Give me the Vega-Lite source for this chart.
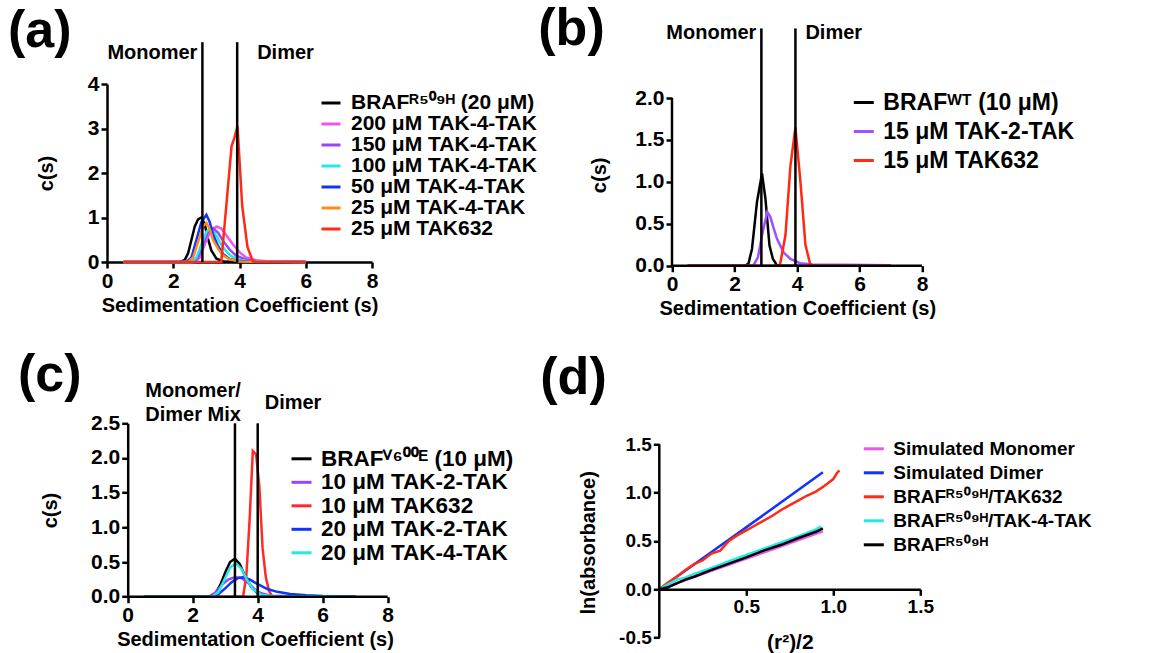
{
  "$schema": "https://vega.github.io/schema/vega-lite/v6.json",
  "padding": {"left": 8, "top": 2, "right": 0, "bottom": 0},
  "background": "white",
  "columns": 2,
  "bounds": "flush",
  "align": "each",
  "spacing": {"row": 157.3, "column": 271.3},
  "resolve": {"scale": {"x": "independent", "y": "independent", "color": "independent"}, "axis": {"x": "independent", "y": "independent"}, "legend": {"color": "independent"}},
  "datasets": {
    "A": [
      {"k":"BRAFᴿ⁵⁰⁹ᴴ (20 μM)","s":0.5,"c":0},{"k":"BRAFᴿ⁵⁰⁹ᴴ (20 μM)","s":2.2,"c":0},{"k":"BRAFᴿ⁵⁰⁹ᴴ (20 μM)","s":2.35,"c":0.05},{"k":"BRAFᴿ⁵⁰⁹ᴴ (20 μM)","s":2.45,"c":0.2},{"k":"BRAFᴿ⁵⁰⁹ᴴ (20 μM)","s":2.55,"c":0.5},{"k":"BRAFᴿ⁵⁰⁹ᴴ (20 μM)","s":2.65,"c":0.8},{"k":"BRAFᴿ⁵⁰⁹ᴴ (20 μM)","s":2.75,"c":0.96},{"k":"BRAFᴿ⁵⁰⁹ᴴ (20 μM)","s":2.85,"c":1.0},{"k":"BRAFᴿ⁵⁰⁹ᴴ (20 μM)","s":2.95,"c":0.85},{"k":"BRAFᴿ⁵⁰⁹ᴴ (20 μM)","s":3.05,"c":0.52},{"k":"BRAFᴿ⁵⁰⁹ᴴ (20 μM)","s":3.15,"c":0.26},{"k":"BRAFᴿ⁵⁰⁹ᴴ (20 μM)","s":3.3,"c":0.08},{"k":"BRAFᴿ⁵⁰⁹ᴴ (20 μM)","s":3.5,"c":0.01},{"k":"BRAFᴿ⁵⁰⁹ᴴ (20 μM)","s":4,"c":0},{"k":"BRAFᴿ⁵⁰⁹ᴴ (20 μM)","s":6,"c":0},
      {"k":"200 μM TAK-4-TAK","s":0.5,"c":0},{"k":"200 μM TAK-4-TAK","s":2.65,"c":0},{"k":"200 μM TAK-4-TAK","s":2.8,"c":0.1},{"k":"200 μM TAK-4-TAK","s":2.95,"c":0.4},{"k":"200 μM TAK-4-TAK","s":3.1,"c":0.65},{"k":"200 μM TAK-4-TAK","s":3.3,"c":0.8},{"k":"200 μM TAK-4-TAK","s":3.45,"c":0.75},{"k":"200 μM TAK-4-TAK","s":3.6,"c":0.6},{"k":"200 μM TAK-4-TAK","s":3.8,"c":0.4},{"k":"200 μM TAK-4-TAK","s":4.0,"c":0.22},{"k":"200 μM TAK-4-TAK","s":4.2,"c":0.1},{"k":"200 μM TAK-4-TAK","s":4.5,"c":0.04},{"k":"200 μM TAK-4-TAK","s":4.9,"c":0.01},{"k":"200 μM TAK-4-TAK","s":6,"c":0},
      {"k":"150 μM TAK-4-TAK","s":0.5,"c":0},{"k":"150 μM TAK-4-TAK","s":2.6,"c":0},{"k":"150 μM TAK-4-TAK","s":2.75,"c":0.1},{"k":"150 μM TAK-4-TAK","s":2.9,"c":0.4},{"k":"150 μM TAK-4-TAK","s":3.05,"c":0.68},{"k":"150 μM TAK-4-TAK","s":3.2,"c":0.76},{"k":"150 μM TAK-4-TAK","s":3.35,"c":0.66},{"k":"150 μM TAK-4-TAK","s":3.5,"c":0.48},{"k":"150 μM TAK-4-TAK","s":3.7,"c":0.28},{"k":"150 μM TAK-4-TAK","s":3.9,"c":0.14},{"k":"150 μM TAK-4-TAK","s":4.2,"c":0.05},{"k":"150 μM TAK-4-TAK","s":4.6,"c":0.01},{"k":"150 μM TAK-4-TAK","s":6,"c":0},
      {"k":"100 μM TAK-4-TAK","s":0.5,"c":0},{"k":"100 μM TAK-4-TAK","s":2.55,"c":0},{"k":"100 μM TAK-4-TAK","s":2.7,"c":0.1},{"k":"100 μM TAK-4-TAK","s":2.85,"c":0.4},{"k":"100 μM TAK-4-TAK","s":3.0,"c":0.68},{"k":"100 μM TAK-4-TAK","s":3.1,"c":0.75},{"k":"100 μM TAK-4-TAK","s":3.25,"c":0.65},{"k":"100 μM TAK-4-TAK","s":3.4,"c":0.45},{"k":"100 μM TAK-4-TAK","s":3.55,"c":0.28},{"k":"100 μM TAK-4-TAK","s":3.75,"c":0.13},{"k":"100 μM TAK-4-TAK","s":4.0,"c":0.05},{"k":"100 μM TAK-4-TAK","s":4.3,"c":0.01},{"k":"100 μM TAK-4-TAK","s":6,"c":0},
      {"k":"50 μM TAK-4-TAK","s":0.5,"c":0},{"k":"50 μM TAK-4-TAK","s":2.4,"c":0},{"k":"50 μM TAK-4-TAK","s":2.55,"c":0.1},{"k":"50 μM TAK-4-TAK","s":2.7,"c":0.5},{"k":"50 μM TAK-4-TAK","s":2.85,"c":0.9},{"k":"50 μM TAK-4-TAK","s":3.0,"c":1.06},{"k":"50 μM TAK-4-TAK","s":3.1,"c":0.9},{"k":"50 μM TAK-4-TAK","s":3.2,"c":0.62},{"k":"50 μM TAK-4-TAK","s":3.35,"c":0.36},{"k":"50 μM TAK-4-TAK","s":3.5,"c":0.18},{"k":"50 μM TAK-4-TAK","s":3.7,"c":0.07},{"k":"50 μM TAK-4-TAK","s":4.0,"c":0.02},{"k":"50 μM TAK-4-TAK","s":4.5,"c":0},{"k":"50 μM TAK-4-TAK","s":6,"c":0},
      {"k":"25 μM TAK-4-TAK","s":0.5,"c":0},{"k":"25 μM TAK-4-TAK","s":2.45,"c":0},{"k":"25 μM TAK-4-TAK","s":2.6,"c":0.1},{"k":"25 μM TAK-4-TAK","s":2.75,"c":0.45},{"k":"25 μM TAK-4-TAK","s":2.9,"c":0.8},{"k":"25 μM TAK-4-TAK","s":3.0,"c":0.88},{"k":"25 μM TAK-4-TAK","s":3.1,"c":0.75},{"k":"25 μM TAK-4-TAK","s":3.2,"c":0.5},{"k":"25 μM TAK-4-TAK","s":3.35,"c":0.3},{"k":"25 μM TAK-4-TAK","s":3.5,"c":0.15},{"k":"25 μM TAK-4-TAK","s":3.7,"c":0.06},{"k":"25 μM TAK-4-TAK","s":4.0,"c":0.01},{"k":"25 μM TAK-4-TAK","s":6,"c":0},
      {"k":"25 μM TAK632","s":0.5,"c":0},{"k":"25 μM TAK632","s":3.45,"c":0},{"k":"25 μM TAK632","s":3.6,"c":1.25},{"k":"25 μM TAK632","s":3.76,"c":2.6},{"k":"25 μM TAK632","s":3.85,"c":2.8},{"k":"25 μM TAK632","s":3.94,"c":3.06},{"k":"25 μM TAK632","s":4.08,"c":1.27},{"k":"25 μM TAK632","s":4.24,"c":0.34},{"k":"25 μM TAK632","s":4.4,"c":0.02},{"k":"25 μM TAK632","s":4.5,"c":0},{"k":"25 μM TAK632","s":6,"c":0}
    ],
    "AR": [
      {"s":2.88,"c":0,"s2":2.88,"c2":4.94},
      {"s":3.93,"c":0,"s2":3.93,"c2":4.94}
    ],
    "AT": [
      {"s":2.88,"c":4.7,"t":"Monomer"},
      {"s":3.93,"c":4.7,"t":"Dimer"}
    ],
    "B": [
      {"k":"BRAFᵂᵀ (10 μM)","s":0.5,"c":0},{"k":"BRAFᵂᵀ (10 μM)","s":2.35,"c":0},{"k":"BRAFᵂᵀ (10 μM)","s":2.45,"c":0.03},{"k":"BRAFᵂᵀ (10 μM)","s":2.56,"c":0.2},{"k":"BRAFᵂᵀ (10 μM)","s":2.72,"c":0.76},{"k":"BRAFᵂᵀ (10 μM)","s":2.88,"c":1.1},{"k":"BRAFᵂᵀ (10 μM)","s":2.99,"c":0.8},{"k":"BRAFᵂᵀ (10 μM)","s":3.12,"c":0.24},{"k":"BRAFᵂᵀ (10 μM)","s":3.23,"c":0.08},{"k":"BRAFᵂᵀ (10 μM)","s":3.35,"c":0.01},{"k":"BRAFᵂᵀ (10 μM)","s":3.5,"c":0},{"k":"BRAFᵂᵀ (10 μM)","s":7,"c":0},
      {"k":"15 μM TAK-2-TAK","s":0.5,"c":0},{"k":"15 μM TAK-2-TAK","s":2.6,"c":0},{"k":"15 μM TAK-2-TAK","s":2.75,"c":0.1},{"k":"15 μM TAK-2-TAK","s":2.9,"c":0.4},{"k":"15 μM TAK-2-TAK","s":3.05,"c":0.64},{"k":"15 μM TAK-2-TAK","s":3.15,"c":0.58},{"k":"15 μM TAK-2-TAK","s":3.25,"c":0.45},{"k":"15 μM TAK-2-TAK","s":3.36,"c":0.32},{"k":"15 μM TAK-2-TAK","s":3.57,"c":0.16},{"k":"15 μM TAK-2-TAK","s":3.79,"c":0.08},{"k":"15 μM TAK-2-TAK","s":4.1,"c":0.03},{"k":"15 μM TAK-2-TAK","s":4.5,"c":0.015},{"k":"15 μM TAK-2-TAK","s":5.5,"c":0.01},{"k":"15 μM TAK-2-TAK","s":7,"c":0.005},
      {"k":"15 μM TAK632","s":0.5,"c":0},{"k":"15 μM TAK632","s":3.45,"c":0},{"k":"15 μM TAK632","s":3.63,"c":0.36},{"k":"15 μM TAK632","s":3.79,"c":1.19},{"k":"15 μM TAK632","s":3.95,"c":1.65},{"k":"15 μM TAK632","s":4.11,"c":1.0},{"k":"15 μM TAK632","s":4.27,"c":0.25},{"k":"15 μM TAK632","s":4.42,"c":0.02},{"k":"15 μM TAK632","s":4.5,"c":0},{"k":"15 μM TAK632","s":7,"c":0}
    ],
    "BR": [
      {"s":0,"c":0,"s2":0,"c2":2},
      {"s":0,"c":0,"s2":8,"c2":0},
      {"s":2.86,"c":0,"s2":2.86,"c2":2.83},
      {"s":3.95,"c":0,"s2":3.95,"c2":2.83}
    ],
    "BT": [
      {"s":2.86,"c":2.78,"t":"Monomer"},
      {"s":3.95,"c":2.78,"t":"Dimer"}
    ],
    "C": [
      {"k":"BRAFⱽ⁶⁰⁰ᴱ (10 μM)","s":0.5,"c":0},{"k":"BRAFⱽ⁶⁰⁰ᴱ (10 μM)","s":2.5,"c":0},{"k":"BRAFⱽ⁶⁰⁰ᴱ (10 μM)","s":2.7,"c":0.05},{"k":"BRAFⱽ⁶⁰⁰ᴱ (10 μM)","s":2.85,"c":0.17},{"k":"BRAFⱽ⁶⁰⁰ᴱ (10 μM)","s":3.0,"c":0.35},{"k":"BRAFⱽ⁶⁰⁰ᴱ (10 μM)","s":3.15,"c":0.5},{"k":"BRAFⱽ⁶⁰⁰ᴱ (10 μM)","s":3.3,"c":0.55},{"k":"BRAFⱽ⁶⁰⁰ᴱ (10 μM)","s":3.45,"c":0.47},{"k":"BRAFⱽ⁶⁰⁰ᴱ (10 μM)","s":3.6,"c":0.31},{"k":"BRAFⱽ⁶⁰⁰ᴱ (10 μM)","s":3.8,"c":0.14},{"k":"BRAFⱽ⁶⁰⁰ᴱ (10 μM)","s":4.0,"c":0.05},{"k":"BRAFⱽ⁶⁰⁰ᴱ (10 μM)","s":4.3,"c":0.01},{"k":"BRAFⱽ⁶⁰⁰ᴱ (10 μM)","s":7,"c":0},
      {"k":"10 μM TAK-2-TAK","s":0.5,"c":0},{"k":"10 μM TAK-2-TAK","s":2.5,"c":0},{"k":"10 μM TAK-2-TAK","s":2.7,"c":0.06},{"k":"10 μM TAK-2-TAK","s":2.9,"c":0.17},{"k":"10 μM TAK-2-TAK","s":3.1,"c":0.25},{"k":"10 μM TAK-2-TAK","s":3.3,"c":0.28},{"k":"10 μM TAK-2-TAK","s":3.5,"c":0.27},{"k":"10 μM TAK-2-TAK","s":3.7,"c":0.2},{"k":"10 μM TAK-2-TAK","s":3.9,"c":0.11},{"k":"10 μM TAK-2-TAK","s":4.1,"c":0.05},{"k":"10 μM TAK-2-TAK","s":4.4,"c":0.015},{"k":"10 μM TAK-2-TAK","s":7,"c":0},
      {"k":"10 μM TAK632","s":0.5,"c":0},{"k":"10 μM TAK632","s":3.55,"c":0},{"k":"10 μM TAK632","s":3.65,"c":0.3},{"k":"10 μM TAK632","s":3.75,"c":1.1},{"k":"10 μM TAK632","s":3.85,"c":2.1},{"k":"10 μM TAK632","s":3.95,"c":2.05},{"k":"10 μM TAK632","s":4.05,"c":1.6},{"k":"10 μM TAK632","s":4.15,"c":0.7},{"k":"10 μM TAK632","s":4.25,"c":0.28},{"k":"10 μM TAK632","s":4.35,"c":0.08},{"k":"10 μM TAK632","s":4.45,"c":0},{"k":"10 μM TAK632","s":7,"c":0},
      {"k":"20 μM TAK-2-TAK","s":0.5,"c":0},{"k":"20 μM TAK-2-TAK","s":2.6,"c":0},{"k":"20 μM TAK-2-TAK","s":2.8,"c":0.04},{"k":"20 μM TAK-2-TAK","s":3.0,"c":0.12},{"k":"20 μM TAK-2-TAK","s":3.2,"c":0.21},{"k":"20 μM TAK-2-TAK","s":3.4,"c":0.27},{"k":"20 μM TAK-2-TAK","s":3.55,"c":0.28},{"k":"20 μM TAK-2-TAK","s":3.75,"c":0.25},{"k":"20 μM TAK-2-TAK","s":4.0,"c":0.18},{"k":"20 μM TAK-2-TAK","s":4.3,"c":0.11},{"k":"20 μM TAK-2-TAK","s":4.6,"c":0.07},{"k":"20 μM TAK-2-TAK","s":5.0,"c":0.04},{"k":"20 μM TAK-2-TAK","s":5.5,"c":0.02},{"k":"20 μM TAK-2-TAK","s":6,"c":0.01},{"k":"20 μM TAK-2-TAK","s":7,"c":0.003},
      {"k":"20 μM TAK-4-TAK","s":0.5,"c":0},{"k":"20 μM TAK-4-TAK","s":2.6,"c":0},{"k":"20 μM TAK-4-TAK","s":2.8,"c":0.07},{"k":"20 μM TAK-4-TAK","s":3.0,"c":0.27},{"k":"20 μM TAK-4-TAK","s":3.15,"c":0.42},{"k":"20 μM TAK-4-TAK","s":3.33,"c":0.48},{"k":"20 μM TAK-4-TAK","s":3.5,"c":0.4},{"k":"20 μM TAK-4-TAK","s":3.65,"c":0.26},{"k":"20 μM TAK-4-TAK","s":3.85,"c":0.11},{"k":"20 μM TAK-4-TAK","s":4.1,"c":0.03},{"k":"20 μM TAK-4-TAK","s":4.5,"c":0.005},{"k":"20 μM TAK-4-TAK","s":7,"c":0}
    ],
    "CR": [
      {"s":0,"c":0,"s2":8,"c2":0},
      {"s":3.3,"c":0,"s2":3.3,"c2":2.5},
      {"s":4.0,"c":0,"s2":4.0,"c2":2.5}
    ],
    "CT": [
      {"s":2.01,"c":2.965,"t":"Monomer/\nDimer Mix"},
      {"s":4.0,"c":2.79,"t":"Dimer"}
    ],
    "D": [
      {"k":"Simulated Monomer","r":0,"a":0},{"k":"Simulated Monomer","r":0.3,"a":0.19},{"k":"Simulated Monomer","r":0.6,"a":0.38},{"k":"Simulated Monomer","r":0.94,"a":0.6},
      {"k":"Simulated Dimer","r":0,"a":0},{"k":"Simulated Dimer","r":0.3,"a":0.385},{"k":"Simulated Dimer","r":0.6,"a":0.77},{"k":"Simulated Dimer","r":0.94,"a":1.21},
      {"k":"BRAFᴿ⁵⁰⁹ᴴ/TAK632","r":0,"a":0},{"k":"BRAFᴿ⁵⁰⁹ᴴ/TAK632","r":0.05,"a":0.07},{"k":"BRAFᴿ⁵⁰⁹ᴴ/TAK632","r":0.1,"a":0.13},{"k":"BRAFᴿ⁵⁰⁹ᴴ/TAK632","r":0.15,"a":0.2},{"k":"BRAFᴿ⁵⁰⁹ᴴ/TAK632","r":0.2,"a":0.26},{"k":"BRAFᴿ⁵⁰⁹ᴴ/TAK632","r":0.25,"a":0.3},{"k":"BRAFᴿ⁵⁰⁹ᴴ/TAK632","r":0.3,"a":0.37},{"k":"BRAFᴿ⁵⁰⁹ᴴ/TAK632","r":0.35,"a":0.4},{"k":"BRAFᴿ⁵⁰⁹ᴴ/TAK632","r":0.4,"a":0.5},{"k":"BRAFᴿ⁵⁰⁹ᴴ/TAK632","r":0.45,"a":0.56},{"k":"BRAFᴿ⁵⁰⁹ᴴ/TAK632","r":0.5,"a":0.61},{"k":"BRAFᴿ⁵⁰⁹ᴴ/TAK632","r":0.55,"a":0.66},{"k":"BRAFᴿ⁵⁰⁹ᴴ/TAK632","r":0.6,"a":0.71},{"k":"BRAFᴿ⁵⁰⁹ᴴ/TAK632","r":0.65,"a":0.76},{"k":"BRAFᴿ⁵⁰⁹ᴴ/TAK632","r":0.7,"a":0.82},{"k":"BRAFᴿ⁵⁰⁹ᴴ/TAK632","r":0.75,"a":0.87},{"k":"BRAFᴿ⁵⁰⁹ᴴ/TAK632","r":0.8,"a":0.92},{"k":"BRAFᴿ⁵⁰⁹ᴴ/TAK632","r":0.85,"a":0.97},{"k":"BRAFᴿ⁵⁰⁹ᴴ/TAK632","r":0.9,"a":1.01},{"k":"BRAFᴿ⁵⁰⁹ᴴ/TAK632","r":0.95,"a":1.07},{"k":"BRAFᴿ⁵⁰⁹ᴴ/TAK632","r":1.0,"a":1.14},{"k":"BRAFᴿ⁵⁰⁹ᴴ/TAK632","r":1.02,"a":1.2},{"k":"BRAFᴿ⁵⁰⁹ᴴ/TAK632","r":1.035,"a":1.23},
      {"k":"BRAFᴿ⁵⁰⁹ᴴ/TAK-4-TAK","r":0,"a":0},{"k":"BRAFᴿ⁵⁰⁹ᴴ/TAK-4-TAK","r":0.05,"a":0.05},{"k":"BRAFᴿ⁵⁰⁹ᴴ/TAK-4-TAK","r":0.1,"a":0.1},{"k":"BRAFᴿ⁵⁰⁹ᴴ/TAK-4-TAK","r":0.15,"a":0.12},{"k":"BRAFᴿ⁵⁰⁹ᴴ/TAK-4-TAK","r":0.2,"a":0.16},{"k":"BRAFᴿ⁵⁰⁹ᴴ/TAK-4-TAK","r":0.3,"a":0.22},{"k":"BRAFᴿ⁵⁰⁹ᴴ/TAK-4-TAK","r":0.4,"a":0.29},{"k":"BRAFᴿ⁵⁰⁹ᴴ/TAK-4-TAK","r":0.5,"a":0.355},{"k":"BRAFᴿ⁵⁰⁹ᴴ/TAK-4-TAK","r":0.6,"a":0.42},{"k":"BRAFᴿ⁵⁰⁹ᴴ/TAK-4-TAK","r":0.7,"a":0.485},{"k":"BRAFᴿ⁵⁰⁹ᴴ/TAK-4-TAK","r":0.8,"a":0.55},{"k":"BRAFᴿ⁵⁰⁹ᴴ/TAK-4-TAK","r":0.9,"a":0.62},{"k":"BRAFᴿ⁵⁰⁹ᴴ/TAK-4-TAK","r":0.93,"a":0.65},
      {"k":"BRAFᴿ⁵⁰⁹ᴴ","r":0,"a":0},{"k":"BRAFᴿ⁵⁰⁹ᴴ","r":0.05,"a":0.02},{"k":"BRAFᴿ⁵⁰⁹ᴴ","r":0.1,"a":0.06},{"k":"BRAFᴿ⁵⁰⁹ᴴ","r":0.15,"a":0.1},{"k":"BRAFᴿ⁵⁰⁹ᴴ","r":0.2,"a":0.13},{"k":"BRAFᴿ⁵⁰⁹ᴴ","r":0.3,"a":0.2},{"k":"BRAFᴿ⁵⁰⁹ᴴ","r":0.4,"a":0.265},{"k":"BRAFᴿ⁵⁰⁹ᴴ","r":0.5,"a":0.33},{"k":"BRAFᴿ⁵⁰⁹ᴴ","r":0.6,"a":0.4},{"k":"BRAFᴿ⁵⁰⁹ᴴ","r":0.7,"a":0.46},{"k":"BRAFᴿ⁵⁰⁹ᴴ","r":0.8,"a":0.53},{"k":"BRAFᴿ⁵⁰⁹ᴴ","r":0.9,"a":0.595},{"k":"BRAFᴿ⁵⁰⁹ᴴ","r":0.94,"a":0.63}
    ],
    "DR": [
      {"r":0,"a":-0.5,"r2":0,"a2":1.5}
    ]
  },
  "concat": [
    {
      "width": 265, "height": 178,
      "title": {"text": "(a)", "dx": -99, "offset": -17},
      "layer": [
        {
          "data": {"name": "A"},
          "mark": {"type": "line", "strokeWidth": 2.5},
          "encoding": {
            "x": {"field": "s", "type": "quantitative", "scale": {"domain": [0, 8], "nice": false}, "axis": {"title": "Sedimentation Coefficient (s)", "values": [0, 2, 4, 6, 8], "titlePadding": 4, "labelOverlap": false}},
            "y": {"field": "c", "type": "quantitative", "scale": {"domain": [0, 4], "nice": false}, "axis": {"title": "c(s)", "values": [0, 1, 2, 3, 4], "titlePadding": 31, "labelOverlap": false}},
            "color": {"field": "k", "type": "nominal",
              "scale": {"domain": ["BRAFᴿ⁵⁰⁹ᴴ (20 μM)", "200 μM TAK-4-TAK", "150 μM TAK-4-TAK", "100 μM TAK-4-TAK", "50 μM TAK-4-TAK", "25 μM TAK-4-TAK", "25 μM TAK632"],
                        "range": ["#000000", "#ee55ee", "#9944ff", "#22e8e8", "#1133ff", "#ff8a1c", "#ff2a12"]},
              "legend": {"title": null, "orient": "none", "legendX": 213, "legendY": 8, "labelFontSize": 21, "symbolSize": 361, "rowPadding": 0, "labelOffset": 9}}
          }
        },
        {
          "data": {"name": "AR"},
          "mark": {"type": "rule", "strokeWidth": 2.5, "color": "#000000"},
          "encoding": {"x": {"field": "s", "type": "quantitative"}, "y": {"field": "c", "type": "quantitative"}, "x2": {"field": "s2"}, "y2": {"field": "c2"}}
        },
        {
          "data": {"name": "AT"},
          "transform": [{"filter": "datum.t == 'Monomer'"}],
          "mark": {"type": "text", "align": "right", "baseline": "middle", "dx": -5},
          "encoding": {"x": {"field": "s", "type": "quantitative"}, "y": {"field": "c", "type": "quantitative"}, "text": {"field": "t"}}
        },
        {
          "data": {"name": "AT"},
          "transform": [{"filter": "datum.t == 'Dimer'"}],
          "mark": {"type": "text", "align": "left", "baseline": "middle", "dx": 20},
          "encoding": {"x": {"field": "s", "type": "quantitative"}, "y": {"field": "c", "type": "quantitative"}, "text": {"field": "t"}}
        }
      ]
    },
    {
      "width": 262.7, "height": 181.7,
      "title": {"text": "(b)", "dx": -121, "offset": -33},
      "layer": [
        {
          "data": {"name": "B"},
          "mark": {"type": "line", "strokeWidth": 2.5},
          "encoding": {
            "x": {"field": "s", "type": "quantitative", "scale": {"domain": [-0.406, 8], "nice": false}, "axis": {"title": "Sedimentation Coefficient (s)", "values": [0, 2, 4, 6, 8], "domain": false, "titlePadding": 4, "titleX": 138, "labelOverlap": false}},
            "y": {"field": "c", "type": "quantitative", "scale": {"domain": [0, 2.167], "nice": false}, "axis": {"title": "c(s)", "values": [0, 0.5, 1, 1.5, 2], "labelExpr": "format(datum.value, '.1f')", "domain": false, "offset": -12.7, "titlePadding": 25, "labelOverlap": false}},
            "color": {"field": "k", "type": "nominal",
              "scale": {"domain": ["BRAFᵂᵀ (10 μM)", "15 μM TAK-2-TAK", "15 μM TAK632"], "range": ["#000000", "#a050ff", "#ff2a12"]},
              "legend": {"title": null, "orient": "none", "legendX": 193, "legendY": 7, "labelFontSize": 23, "symbolSize": 400, "rowPadding": 5}}
          }
        },
        {
          "data": {"name": "BR"},
          "mark": {"type": "rule", "strokeWidth": 2.5, "color": "#000000"},
          "encoding": {"x": {"field": "s", "type": "quantitative"}, "y": {"field": "c", "type": "quantitative"}, "x2": {"field": "s2"}, "y2": {"field": "c2"}}
        },
        {
          "data": {"name": "BT"},
          "transform": [{"filter": "datum.t == 'Monomer'"}],
          "mark": {"type": "text", "align": "right", "baseline": "middle", "dx": -5},
          "encoding": {"x": {"field": "s", "type": "quantitative"}, "y": {"field": "c", "type": "quantitative"}, "text": {"field": "t"}}
        },
        {
          "data": {"name": "BT"},
          "transform": [{"filter": "datum.t == 'Dimer'"}],
          "mark": {"type": "text", "align": "left", "baseline": "middle", "dx": 10},
          "encoding": {"x": {"field": "s", "type": "quantitative"}, "y": {"field": "c", "type": "quantitative"}, "text": {"field": "t"}}
        }
      ]
    },
    {
      "width": 280.7, "height": 173.4,
      "title": {"text": "(c)", "dx": -89, "offset": -21},
      "layer": [
        {
          "data": {"name": "C"},
          "mark": {"type": "line", "strokeWidth": 2.5},
          "encoding": {
            "x": {"field": "s", "type": "quantitative", "scale": {"domain": [-0.637, 8], "nice": false}, "axis": {"title": "Sedimentation Coefficient (s)", "values": [0, 2, 4, 6, 8], "domain": false, "titlePadding": 4, "titleX": 148, "labelOverlap": false}},
            "y": {"field": "c", "type": "quantitative", "scale": {"domain": [0, 2.5], "nice": false}, "axis": {"title": "c(s)", "values": [0, 0.5, 1, 1.5, 2, 2.5], "tickCount": 6, "labelExpr": "format(datum.value, '.1f')", "offset": -20.7, "titlePadding": 30, "labelOverlap": false, "labelBound": false, "labelSeparation": 0}},
            "color": {"field": "k", "type": "nominal",
              "scale": {"domain": ["BRAFⱽ⁶⁰⁰ᴱ (10 μM)", "10 μM TAK-2-TAK", "10 μM TAK632", "20 μM TAK-2-TAK", "20 μM TAK-4-TAK"], "range": ["#000000", "#9944ff", "#ff2a2a", "#1133ff", "#22e8e8"]},
              "legend": {"title": null, "orient": "none", "legendX": 183, "legendY": 24, "labelFontSize": 22.5, "symbolSize": 400, "rowPadding": 0.5}}
          }
        },
        {
          "data": {"name": "CR"},
          "mark": {"type": "rule", "strokeWidth": 2.5, "color": "#000000"},
          "encoding": {"x": {"field": "s", "type": "quantitative"}, "y": {"field": "c", "type": "quantitative"}, "x2": {"field": "s2"}, "y2": {"field": "c2"}}
        },
        {
          "data": {"name": "CT"},
          "transform": [{"filter": "datum.t != 'Dimer'"}],
          "mark": {"type": "text", "align": "center", "baseline": "middle", "lineBreak": "\n", "lineHeight": 24},
          "encoding": {"x": {"field": "s", "type": "quantitative"}, "y": {"field": "c", "type": "quantitative"}, "text": {"field": "t"}}
        },
        {
          "data": {"name": "CT"},
          "transform": [{"filter": "datum.t == 'Dimer'"}],
          "mark": {"type": "text", "align": "left", "baseline": "middle", "dx": 7},
          "encoding": {"x": {"field": "s", "type": "quantitative"}, "y": {"field": "c", "type": "quantitative"}, "text": {"field": "t"}}
        }
      ]
    },
    {
      "width": 261, "height": 214.3,
      "title": {"text": "(d)", "dx": -119, "offset": 18},
      "layer": [
        {
          "data": {"name": "D"},
          "mark": {"type": "line", "strokeWidth": 2.5},
          "encoding": {
            "x": {"field": "r", "type": "quantitative", "scale": {"domain": [0, 1.5], "nice": false}, "axis": {"title": "(r²)/2", "values": [0.5, 1, 1.5], "format": ".1f", "offset": -48.3, "labelFontSize": 19, "titleFontSize": 21, "titlePadding": 15, "labelOverlap": false}},
            "y": {"field": "a", "type": "quantitative", "scale": {"domain": [-0.5, 1.717], "nice": false}, "axis": {"title": "ln(absorbance)", "values": [-0.5, 0, 0.5, 1, 1.5], "labelExpr": "datum.value < 0 ? '-' + format(-datum.value, '.1f') : format(datum.value, '.1f')", "domain": false, "labelFontSize": 19, "titlePadding": 20, "titleY": 119, "labelOverlap": false}},
            "color": {"field": "k", "type": "nominal",
              "scale": {"domain": ["Simulated Monomer", "Simulated Dimer", "BRAFᴿ⁵⁰⁹ᴴ/TAK632", "BRAFᴿ⁵⁰⁹ᴴ/TAK-4-TAK", "BRAFᴿ⁵⁰⁹ᴴ"], "range": ["#ee55ee", "#1133ff", "#ff2a12", "#22e8e8", "#000000"]},
              "legend": {"title": null, "orient": "none", "legendX": 203, "legendY": 14, "labelFontSize": 19, "symbolSize": 400, "rowPadding": 2}}
          }
        },
        {
          "data": {"name": "DR"},
          "mark": {"type": "rule", "strokeWidth": 2.5, "color": "#000000"},
          "encoding": {"x": {"field": "r", "type": "quantitative"}, "y": {"field": "a", "type": "quantitative"}, "x2": {"field": "r2"}, "y2": {"field": "a2"}}
        }
      ]
    }
  ],
  "config": {
    "font": "Liberation Sans",
    "view": {"stroke": null},
    "axis": {"domainColor": "#000000", "domainWidth": 2.5, "tickColor": "#000000", "tickWidth": 2.5, "tickSize": 6, "labelFont": "Liberation Sans", "labelFontWeight": "bold", "labelFontSize": 21, "labelColor": "#000000", "labelPadding": 2, "labelFlush": false, "labelOverlap": false, "titleFont": "Liberation Sans", "titleFontWeight": "bold", "titleFontSize": 20, "titleColor": "#000000", "grid": false},
    "legend": {"symbolType": "stroke", "symbolStrokeWidth": 3, "labelFont": "Liberation Sans", "labelFontWeight": "bold", "labelColor": "#000000", "labelLimit": 600, "padding": 0, "labelOffset": 8},
    "title": {"font": "Liberation Sans", "fontWeight": "bold", "fontSize": 52, "color": "#000000", "anchor": "start", "frame": "group", "baseline": "alphabetic"},
    "text": {"font": "Liberation Sans", "fontWeight": "bold", "fontSize": 20, "color": "#000000"}
  }
}
